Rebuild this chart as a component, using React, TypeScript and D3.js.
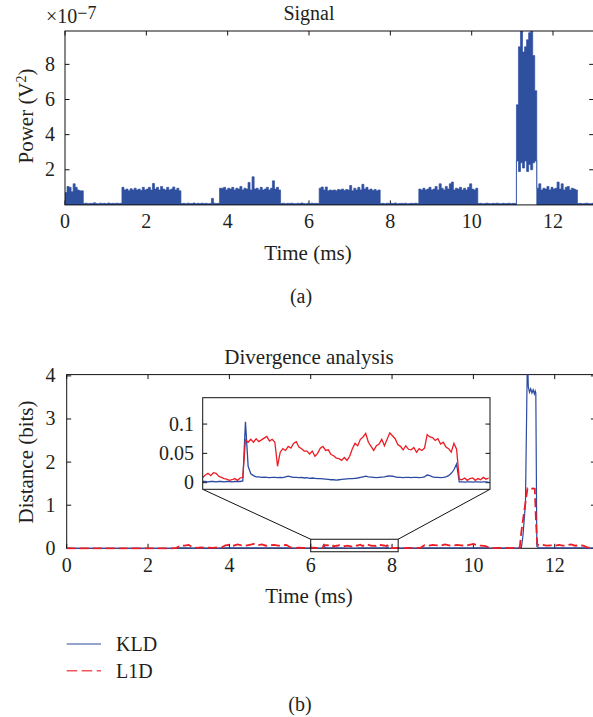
import React from "react";
import * as d3 from "d3";

const W = 593;
const H = 717;
const FONT = '"Liberation Serif","Times New Roman",Times,serif';
const FS = 20;
const FS_LABEL = 21;
const SIGNAL_FILL = "#2f4f9f";
const KLD_COLOR = "#2b4aa0";
const L1D_COLOR = "#ec1c24";

// ---------- tick labels ----------
const timeTicks = [0, 2, 4, 6, 8, 10, 12];
const powerTicks = [2, 4, 6, 8];
const distTicks = [0, 1, 2, 3, 4];
const insetTicks = [0, 0.05, 0.1];
const insetTickLabels = ["0", "0.05", "0.1"];
const legendLabels = ["KLD", "L1D"];

// ---------- (a) Signal power envelope, units of 1e-7 V^2, sampled every 0.05 ms ----------
const SIGNAL_STEP = 0.05;
const sigBurst1 = [0.7, 1.05, 1.0, 0.75, 1.2, 1.0, 0.85, 0.8, 0.8];
const sigGap1 = [0.08, 0.1, 0.07, 0.09, 0.08, 0.12, 0.08, 0.07, 0.1, 0.08, 0.09, 0.07, 0.11, 0.08, 0.09, 0.08, 0.1, 0.08, 0.09];
const sigBurst2 = [1.0, 0.85, 0.9, 0.8, 0.92, 0.85, 0.95, 0.85, 0.9, 0.82, 1.0, 0.85, 0.9, 1.0, 0.85, 1.22, 0.9, 1.0, 0.85, 1.05, 0.9, 0.85, 1.0, 0.85, 0.9, 1.02, 0.85, 0.95, 0.8];
const sigGap2 = [0.08, 0.09, 0.07, 0.1, 0.08, 0.08, 0.11, 0.07, 0.09, 0.08, 0.1, 0.08, 0.09, 0.07, 0.08, 0.37, 0.1, 0.08, 0.09];
const sigBurst3 = [0.95, 0.95, 1.0, 0.85, 0.95, 0.9, 1.0, 0.85, 0.95, 0.9, 1.05, 0.85, 0.95, 0.9, 1.28, 0.85, 1.6, 0.9, 0.95, 0.85, 1.0, 0.85, 0.9, 1.0, 0.85, 0.95, 1.37, 0.9, 1.0, 0.85];
const sigGap3 = [0.08, 0.1, 0.07, 0.09, 0.08, 0.1, 0.08, 0.07, 0.09, 0.08, 0.11, 0.08, 0.07, 0.09, 0.08, 0.1, 0.08, 0.09, 0.08];
const sigBurst4 = [0.95, 1.02, 0.85, 1.02, 0.8, 0.85, 0.82, 0.85, 0.8, 0.88, 0.85, 0.9, 0.82, 0.88, 0.85, 1.1, 0.8, 0.95, 0.85, 1.0, 0.85, 1.17, 0.9, 1.0, 0.85, 0.9, 0.82, 0.88, 0.8, 0.85];
const sigGap4 = [0.08, 0.09, 0.07, 0.1, 0.08, 0.09, 0.08, 0.11, 0.07, 0.08, 0.09, 0.08, 0.1, 0.07, 0.08, 0.09, 0.08, 0.1, 0.08];
const sigBurst5 = [0.9, 0.85, 0.95, 0.85, 0.9, 1.0, 0.85, 0.9, 1.05, 0.85, 1.2, 0.95, 0.85, 1.05, 0.9, 1.2, 1.3, 0.85, 0.95, 0.9, 1.0, 0.85, 0.95, 0.85, 1.0, 1.2, 0.9, 0.85, 0.95];
const sigGap5 = [0.08, 0.09, 0.07, 0.08, 0.1, 0.08, 0.07, 0.09, 0.08, 0.1, 0.08, 0.07, 0.09, 0.08, 0.08, 0.1, 0.07, 0.09, 0.08];
const sigSpikeUpper = [5.7, 9.0, 10.5, 8.7, 9.0, 9.4, 9.8, 10.5, 8.5, 6.5];
const sigSpikeLower = [2.5, 1.9, 2.4, 2.1, 2.5, 1.9, 2.3, 2.0, 2.4, 2.5];
const sigBurst6 = [0.95, 1.2, 0.85, 0.95, 0.9, 1.05, 0.85, 1.0, 0.9, 0.95, 1.3, 0.9, 1.2, 0.85, 1.0, 1.05, 0.85, 0.95, 0.9, 0.85];
const sigGap6 = [0.08, 0.09, 0.07, 0.08, 0.1, 0.08, 0.07, 0.09];

// ---------- (b) Divergence analysis (bits) ----------
const quietTimes = [0, 2.6];
const quietValues = [0, 0];
// 2.7 .. 5.9 ms, every 0.1 ms
const l1dSegA = [0.01, 0.07, 0.06, 0.08, 0.02, 0.01, 0.02, 0.01, 0.015, 0.01, 0.02, 0.01, 0.07, 0.08, 0.06, 0.09, 0.07, 0.06, 0.08, 0.1, 0.07, 0.09, 0.06, 0.07, 0.08, 0.06, 0.07, 0.08, 0.02, 0.01, 0.015, 0.01, 0.012];
const kldSegA = [0.002, 0.01, 0.008, 0.01, 0.003, 0.002, 0.003, 0.002, 0.002, 0.002, 0.003, 0.002, 0.01, 0.009, 0.008, 0.01, 0.009, 0.008, 0.01, 0.011, 0.009, 0.01, 0.008, 0.009, 0.01, 0.008, 0.009, 0.01, 0.003, 0.002, 0.002, 0.002, 0.002];
// 6.00 .. 8.14 ms, every 0.02 ms (the zoomed inset)
const l1dInset = [
  0.009, 0.013, 0.016, 0.012, 0.017, 0.016, 0.011, 0.009, 0.007, 0.006, 0.004, 0.005, 0.007, 0.004, 0.008, 0.009,
  0.073, 0.069, 0.074, 0.069, 0.075, 0.070, 0.073, 0.076, 0.079, 0.071, 0.074, 0.069,
  0.028, 0.052, 0.058, 0.055, 0.062, 0.059,
  0.067, 0.070, 0.061, 0.058, 0.054, 0.054, 0.049, 0.054, 0.045, 0.050, 0.059, 0.062, 0.055, 0.056, 0.048, 0.046, 0.042,
  0.041, 0.038, 0.043, 0.038, 0.045, 0.058, 0.067, 0.063, 0.074, 0.078, 0.084, 0.069, 0.062, 0.055, 0.063, 0.066, 0.074,
  0.063, 0.074, 0.085, 0.080, 0.075, 0.065, 0.062, 0.056, 0.063, 0.057, 0.056, 0.060, 0.052, 0.058, 0.055, 0.059,
  0.082, 0.078, 0.077, 0.072, 0.075, 0.066, 0.069, 0.061, 0.058, 0.052, 0.067, 0.057,
  0.006, 0.005, 0.008, 0.004, 0.007, 0.008, 0.004, 0.007, 0.005, 0.009, 0.006, 0.008,
];
const kldInset = [
  0.002, 0.002, 0.0015, 0.002, 0.002, 0.0015, 0.002, 0.002, 0.0015, 0.002, 0.002, 0.0015, 0.002, 0.002, 0.002, 0.003,
  0.104, 0.028, 0.015, 0.012, 0.01, 0.01, 0.009, 0.0095, 0.009, 0.0085, 0.009, 0.009,
  0.0085, 0.009, 0.0085, 0.01, 0.011, 0.01,
  0.009, 0.009, 0.0085, 0.009, 0.008, 0.0085, 0.0075, 0.008, 0.0075, 0.007, 0.007, 0.0065, 0.006, 0.0055, 0.005, 0.005, 0.0045,
  0.005, 0.0055, 0.006, 0.0065, 0.007, 0.007, 0.0075, 0.008, 0.009, 0.01, 0.011, 0.01, 0.0095, 0.009, 0.0085, 0.009, 0.0095,
  0.01, 0.011, 0.0115, 0.011, 0.01, 0.009, 0.009, 0.0085, 0.009, 0.009, 0.0085, 0.009, 0.009, 0.0085, 0.009, 0.01,
  0.013, 0.012, 0.01, 0.009, 0.009, 0.0085, 0.009, 0.01, 0.012, 0.016, 0.022, 0.032,
  0.0015, 0.0015, 0.001, 0.0015, 0.0015, 0.001, 0.0015, 0.0015, 0.001, 0.0015, 0.0015, 0.001,
];
// 8.2 .. 11.0 ms, every 0.1 ms
const l1dSegB = [0.01, 0.005, 0.01, 0.008, 0.012, 0.01, 0.07, 0.06, 0.08, 0.07, 0.06, 0.09, 0.07, 0.06, 0.08, 0.07, 0.06, 0.08, 0.1, 0.07, 0.06, 0.05, 0.01, 0.005, 0.01, 0.008, 0.01, 0.006, 0.01];
const kldSegB = [0.002, 0.002, 0.002, 0.002, 0.002, 0.002, 0.01, 0.009, 0.008, 0.01, 0.009, 0.011, 0.01, 0.009, 0.008, 0.01, 0.009, 0.01, 0.011, 0.009, 0.01, 0.008, 0.002, 0.002, 0.002, 0.002, 0.002, 0.002, 0.002];
// the attack peak
const kldPeakT = [11.1, 11.18, 11.22, 11.28, 11.33, 11.35, 11.38, 11.41, 11.44, 11.47, 11.5, 11.52, 11.535, 11.56, 11.6];
const kldPeakV = [0.005, 0.02, 0.3, 1.04, 4.6, 3.75, 3.62, 3.7, 3.6, 3.68, 3.58, 3.65, 3.6, 0.05, 0.01];
const l1dPeakT = [11.1, 11.14, 11.18, 11.23, 11.29, 11.33, 11.4, 11.46, 11.51, 11.54, 11.57, 11.6];
const l1dPeakV = [0.01, 0.02, 0.39, 0.73, 1.12, 1.39, 1.37, 1.39, 1.38, 0.6, 0.1, 0.07];
// 11.7 .. 13.0 ms, every 0.1 ms
const l1dSegC = [0.08, 0.06, 0.07, 0.06, 0.08, 0.06, 0.07, 0.09, 0.06, 0.07, 0.06, 0.02, 0.01, 0.01];
const kldSegC = [0.01, 0.009, 0.01, 0.008, 0.01, 0.009, 0.01, 0.011, 0.009, 0.01, 0.008, 0.002, 0.002, 0.002];

// zoom window shown in the inset
const zoomT0 = 6.0;
const zoomT1 = 8.15;
const zoomV0 = -0.08;
const zoomV1 = 0.21;

// ---------- build tables ----------
type SP = { t: number; hi: number; lo: number };
const signalSegments: { hi: number[]; lo?: number[] }[] = [
  { hi: sigBurst1 }, { hi: sigGap1 }, { hi: sigBurst2 }, { hi: sigGap2 },
  { hi: sigBurst3 }, { hi: sigGap3 }, { hi: sigBurst4 }, { hi: sigGap4 },
  { hi: sigBurst5 }, { hi: sigGap5 }, { hi: sigSpikeUpper, lo: sigSpikeLower },
  { hi: sigBurst6 }, { hi: sigGap6 },
];
const signalPts: SP[] = [];
{
  let k = 0;
  for (const s of signalSegments) {
    s.hi.forEach((v, j) => {
      signalPts.push({ t: k * SIGNAL_STEP, hi: v, lo: s.lo ? s.lo[j] : 0 });
      k++;
    });
  }
  const last = signalPts[signalPts.length - 1];
  signalPts.push({ t: 13, hi: last.hi, lo: last.lo });
}

type DP = { t: number; v: number };
const grid = (t0: number, step: number, vals: number[]): DP[] =>
  vals.map((v, i) => ({ t: +(t0 + i * step).toFixed(4), v }));
const pairs = (ts: number[], vs: number[]): DP[] => ts.map((t, i) => ({ t, v: vs[i] }));

const kldInsetPts = grid(6.0, 0.02, kldInset);
const l1dInsetPts = grid(6.0, 0.02, l1dInset);
const kldPts: DP[] = [
  ...pairs(quietTimes, quietValues), ...grid(2.7, 0.1, kldSegA), ...kldInsetPts,
  ...grid(8.2, 0.1, kldSegB), ...pairs(kldPeakT, kldPeakV), ...grid(11.7, 0.1, kldSegC),
];
const l1dPts: DP[] = [
  ...pairs(quietTimes, quietValues), ...grid(2.7, 0.1, l1dSegA), ...l1dInsetPts,
  ...grid(8.2, 0.1, l1dSegB), ...pairs(l1dPeakT, l1dPeakV), ...grid(11.7, 0.1, l1dSegC),
];

// ---------- scales ----------
const xTop = d3.scaleLinear().domain([0, 13]).range([65, 593.7]);
const yTop = d3.scaleLinear().domain([0, 9.9]).range([204.9, 31]);
const xBot = d3.scaleLinear().domain([0, 13]).range([66.7, 595.4]);
const yBot = d3.scaleLinear().domain([0, 4.03]).range([548.3, 374.6]);
const xIn = d3.scaleLinear().domain([zoomT0, zoomT1]).range([202.7, 490]);
const yIn = d3.scaleLinear().domain([-0.0113, 0.145]).range([489.3, 397.7]);

const TICK = 4.5;

export default function App() {
  const [tx0, tx1] = xTop.range();
  const [ty0, ty1] = yTop.range();
  const [bx0, bx1] = xBot.range();
  const [by0, by1] = yBot.range();
  const [ix0, ix1] = xIn.range();
  const [iy0, iy1] = yIn.range();

  const sigArea = d3
    .area<SP>()
    .x((d) => xTop(d.t))
    .y0((d) => yTop(d.lo))
    .y1((d) => yTop(d.hi))
    .curve(d3.curveStepAfter)(signalPts) as string;

  const mainLine = d3.line<DP>().x((d) => xBot(d.t)).y((d) => yBot(d.v));
  const insetLine = d3.line<DP>().x((d) => xIn(d.t)).y((d) => yIn(d.v));

  const zx0 = xBot(zoomT0);
  const zx1 = xBot(zoomT1);
  const zy0 = yBot(zoomV1);
  const zy1 = yBot(zoomV0);

  return (
    <svg
      width={W}
      height={H}
      viewBox={`0 0 ${W} ${H}`}
      style={{ position: "absolute", left: 0, top: 0, background: "#fff" }}
      fontFamily={FONT}
      fontSize={FS}
      fill="#231f20"
    >
      <defs>
        <clipPath id="clipTop">
          <rect x={tx0} y={ty1} width={tx1 - tx0} height={ty0 - ty1} />
        </clipPath>
        <clipPath id="clipBot">
          <rect x={bx0} y={by1} width={bx1 - bx0} height={by0 - by1 + 1.5} />
        </clipPath>
        <clipPath id="clipIn">
          <rect x={ix0} y={iy1} width={ix1 - ix0} height={iy0 - iy1} />
        </clipPath>
      </defs>

      {/* ================= (a) Signal ================= */}
      <text x={309} y={20} textAnchor="middle">Signal</text>
      <text x={46} y={23}>
        ×10<tspan dy={-4} fontSize={18}>−7</tspan>
      </text>
      <g stroke="#111" strokeWidth={1}>
        {timeTicks.map((t) => (
          <g key={"tt" + t}>
            <line x1={xTop(t)} x2={xTop(t)} y1={ty0} y2={ty0 - TICK} />
            <line x1={xTop(t)} x2={xTop(t)} y1={ty1} y2={ty1 + TICK} />
          </g>
        ))}
        {powerTicks.map((v) => (
          <g key={"pt" + v}>
            <line x1={tx0} x2={tx0 + TICK} y1={yTop(v)} y2={yTop(v)} />
            <line x1={tx1} x2={tx1 - TICK} y1={yTop(v)} y2={yTop(v)} />
          </g>
        ))}
      </g>
      <path d={sigArea} fill={SIGNAL_FILL} stroke={SIGNAL_FILL} strokeWidth={0.7} clipPath="url(#clipTop)" />
      <rect x={tx0} y={ty1} width={tx1 - tx0} height={ty0 - ty1} fill="none" stroke="#111" strokeWidth={1} />
      {powerTicks.map((v) => (
        <text key={"pl" + v} x={55} y={yTop(v) + 6.5} textAnchor="end">{v}</text>
      ))}
      {timeTicks.map((t) => (
        <text key={"tl" + t} x={xTop(t)} y={228.3} textAnchor="middle">{t}</text>
      ))}
      <text x={308} y={259.6} textAnchor="middle" fontSize={FS_LABEL}>Time (ms)</text>
      <text transform="translate(33,116) rotate(-90)" textAnchor="middle" fontSize={FS_LABEL}>
        Power (V<tspan dy={-7} fontSize={14}>2</tspan><tspan dy={7}>)</tspan>
      </text>
      <text x={301} y={303} textAnchor="middle">(a)</text>

      {/* ================= (b) Divergence ================= */}
      <text x={309} y={364} textAnchor="middle" fontSize={FS_LABEL}>Divergence analysis</text>
      <g stroke="#111" strokeWidth={1}>
        {timeTicks.map((t) => (
          <g key={"bt" + t}>
            <line x1={xBot(t)} x2={xBot(t)} y1={by0} y2={by0 - TICK} />
            <line x1={xBot(t)} x2={xBot(t)} y1={by1} y2={by1 + TICK} />
          </g>
        ))}
        {distTicks.map((v) => (
          <g key={"dt" + v}>
            <line x1={bx0} x2={bx0 + TICK} y1={yBot(v)} y2={yBot(v)} />
            <line x1={bx1} x2={bx1 - TICK} y1={yBot(v)} y2={yBot(v)} />
          </g>
        ))}
      </g>
      <rect x={bx0} y={by1} width={bx1 - bx0} height={by0 - by1} fill="none" stroke="#111" strokeWidth={1} />
      <g clipPath="url(#clipBot)" fill="none">
        <path d={mainLine(kldPts) as string} stroke={KLD_COLOR} strokeWidth={1.2} />
        <path d={mainLine(l1dPts) as string} stroke={L1D_COLOR} strokeWidth={1.8} strokeDasharray="9,4" />
      </g>
      {distTicks.map((v) => (
        <text key={"dl" + v} x={55.5} y={yBot(v) + 6.5} textAnchor="end">{v}</text>
      ))}
      {timeTicks.map((t) => (
        <text key={"bl" + t} x={xBot(t)} y={571.7} textAnchor="middle">{t}</text>
      ))}
      <text x={309} y={603} textAnchor="middle" fontSize={FS_LABEL}>Time (ms)</text>
      <text transform="translate(33,462) rotate(-90)" textAnchor="middle" fontSize={FS_LABEL}>Distance (bits)</text>

      {/* zoom box and connectors */}
      <g stroke="#111" strokeWidth={1} fill="none">
        <rect x={zx0} y={zy0} width={zx1 - zx0} height={zy1 - zy0} />
        <line x1={zx0} y1={zy0} x2={ix0} y2={iy0} />
        <line x1={zx1} y1={zy0} x2={ix1} y2={iy0} />
      </g>

      {/* inset */}
      <rect x={ix0} y={iy1} width={ix1 - ix0} height={iy0 - iy1} fill="#fff" stroke="none" />
      <g stroke="#111" strokeWidth={1}>
        {insetTicks.map((v) => (
          <g key={"it" + v}>
            <line x1={ix0} x2={ix0 + TICK} y1={yIn(v)} y2={yIn(v)} />
            <line x1={ix1} x2={ix1 - TICK} y1={yIn(v)} y2={yIn(v)} />
          </g>
        ))}
      </g>
      <g clipPath="url(#clipIn)" fill="none">
        <path d={insetLine(kldInsetPts) as string} stroke={KLD_COLOR} strokeWidth={1.3} />
        <path d={insetLine(l1dInsetPts) as string} stroke={L1D_COLOR} strokeWidth={1.3} />
      </g>
      <rect x={ix0} y={iy1} width={ix1 - ix0} height={iy0 - iy1} fill="none" stroke="#111" strokeWidth={1} />
      {insetTicks.map((v, i) => (
        <text key={"il" + v} x={194} y={yIn(v) + 6.5} textAnchor="end">{insetTickLabels[i]}</text>
      ))}

      {/* legend */}
      <line x1={66.7} x2={101} y1={644} y2={644} stroke={KLD_COLOR} strokeWidth={1.2} />
      <text x={116} y={651}>{legendLabels[0]}</text>
      <line x1={66.7} x2={101} y1={670.7} y2={670.7} stroke={L1D_COLOR} strokeWidth={1.4} strokeDasharray="10.5,4.5" strokeOpacity={0.75} />
      <text x={116} y={677.5}>{legendLabels[1]}</text>
      <text x={300} y={711} textAnchor="middle">(b)</text>
    </svg>
  );
}
